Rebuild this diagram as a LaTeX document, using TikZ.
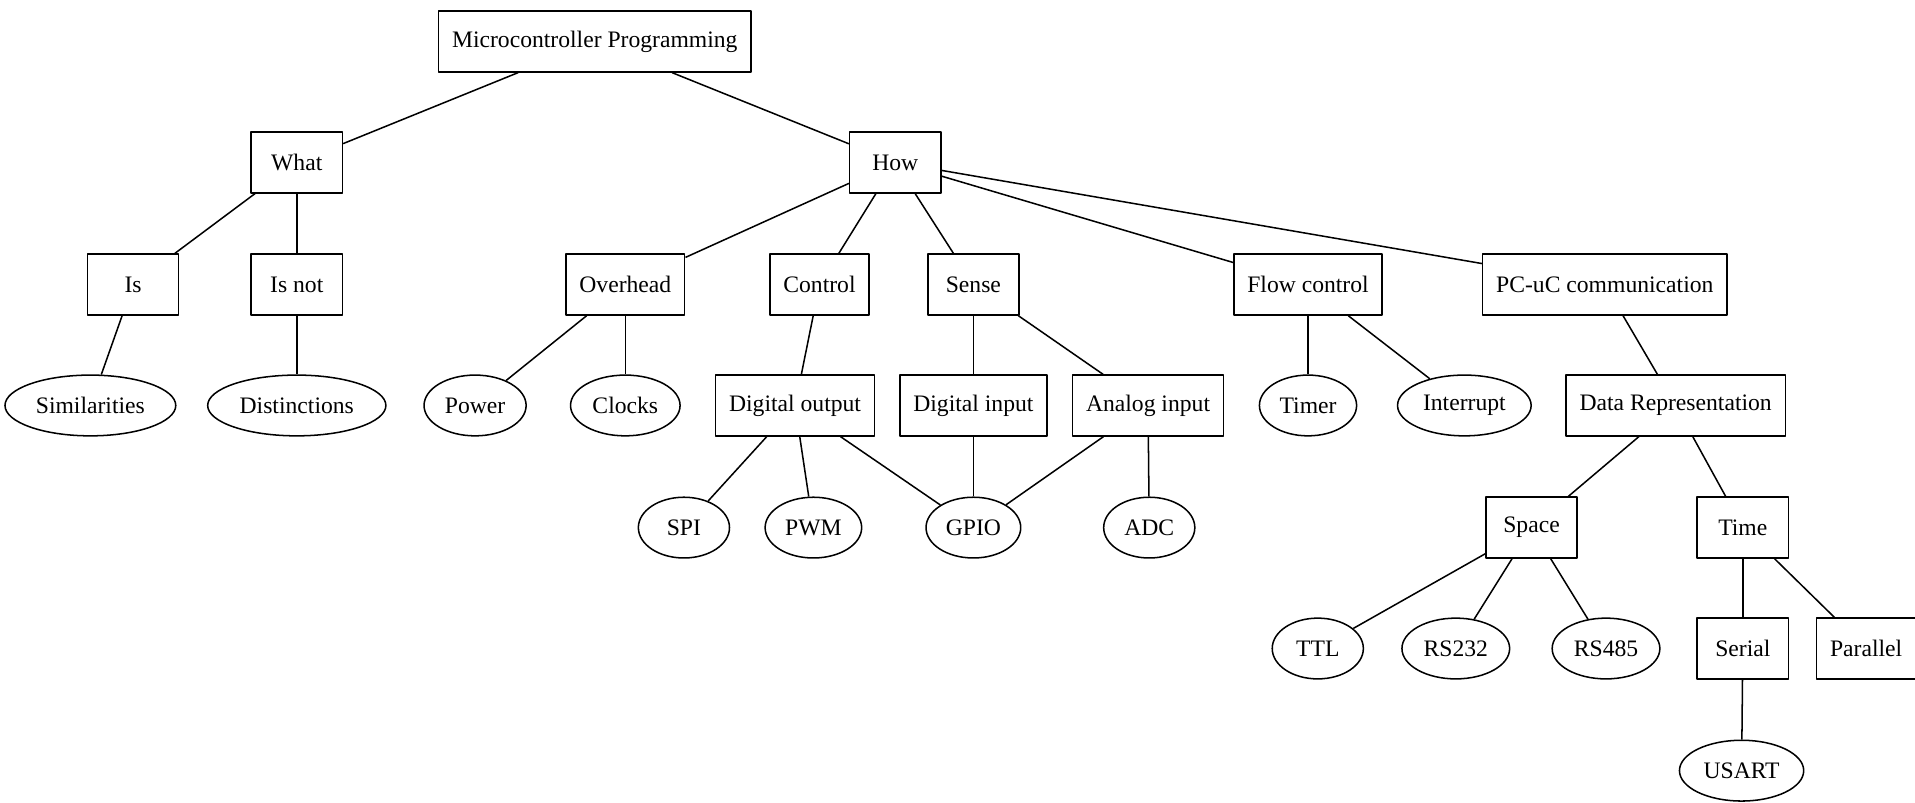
\documentclass[tikz,border=0pt]{standalone}
\usepackage{fontspec}
\setmainfont{Liberation Serif}
\tikzset{
	topic/.style = {draw, rectangle, inner xsep=8pt, minimum width=54pt, minimum height=36pt},
	leaf/.style = {draw, ellipse, inner xsep=3.5pt, inner ysep=0pt, minimum width=54pt, minimum height=36pt}
}
\usetikzlibrary{shapes.geometric}
\begin{document}
\begin{tikzpicture}[line width = 0.9pt, line join=round, x=0.7236pt, y=-0.7236pt, font=\fontsize{14}{17}\selectfont]
	\useasboundingbox (0,0) rectangle (1568,657);
	% Wurzel
	\node [topic] (mcu) at (487,34) {Microcontroller Programming};
	% Rang 1
	\node [topic] (what) at (243,133) {What};
	\node [topic] (how) at (733,133) {How};
	% Rang 2
	\node [topic] (is) at (109,233) {Is};
	\node [topic] (isnot) at (243,233) {Is not};
	\node [topic] (overhead) at (512,233) {Overhead};
	\node [topic] (control) at (671,233) {Control};
	\node [topic] (sense) at (797,233) {Sense};
	\node [topic] (flow) at (1071,233) {Flow control};
	\node [topic] (pcuc) at (1314,233) {PC-uC communication};
	% Rang 3
	\node [leaf] (similar) at (74,332) {Similarities};
	\node [leaf] (distinct) at (243,332) {Distinctions};
	\node [leaf] (power) at (389,332) {Power};
	\node [leaf] (clocks) at (512,332) {Clocks};
	\node [topic] (dout) at (651,332) {Digital output};
	\node [topic] (din) at (797,332) {Digital input};
	\node [topic] (ain) at (940,332) {Analog input};
	\node [leaf] (timer) at (1071,332) {Timer};
	\node [leaf] (interrupt) at (1199,332) {Interrupt};
	\node [topic] (datarep) at (1372,332) {Data Representation};
	% Rang 4
	\node [leaf] (spi) at (560,432) {SPI};
	\node [leaf] (pwm) at (666,432) {PWM};
	\node [leaf] (gpio) at (797,432) {GPIO};
	\node [leaf] (adc) at (941,432) {ADC};
	\node [topic] (space) at (1254,432) {Space};
	\node [topic] (time) at (1427,432) {Time};
	% Rang 5
	\node [leaf] (ttl) at (1079,531) {TTL};
	\node [leaf] (rsa) at (1192,531) {RS232};
	\node [leaf] (rsb) at (1315,531) {RS485};
	\node [topic] (serial) at (1427,531) {Serial};
	\node [topic] (parallel) at (1528,531) {Parallel};
	% Rang 6
	\node [leaf] (usart) at (1426,631) {USART};
	% Kanten
	\draw (mcu) -- (what);
	\draw (mcu) -- (how);
	\draw (what) -- (is);
	\draw (what) -- (isnot);
	\draw (is) -- (similar);
	\draw (isnot) -- (distinct);
	\foreach \n in {overhead,control,sense,flow,pcuc}
		\draw (how) -- (\n);
	\draw (overhead) -- (power);
	\draw (overhead) -- (clocks);
	\draw (control) -- (dout);
	\draw (sense) -- (din);
	\draw (sense) -- (ain);
	\draw (flow) -- (timer);
	\draw (flow) -- (interrupt);
	\draw (pcuc) -- (datarep);
	\foreach \n in {spi,pwm,gpio}
		\draw (dout) -- (\n);
	\draw (din) -- (gpio);
	\draw (ain) -- (gpio);
	\draw (ain) -- (adc);
	\draw (datarep) -- (space);
	\draw (datarep) -- (time);
	\foreach \n in {ttl,rsa,rsb}
		\draw (space) -- (\n);
	\draw (time) -- (serial);
	\draw (time) -- (parallel);
	\draw (serial) -- (usart);
\end{tikzpicture}
\end{document}
